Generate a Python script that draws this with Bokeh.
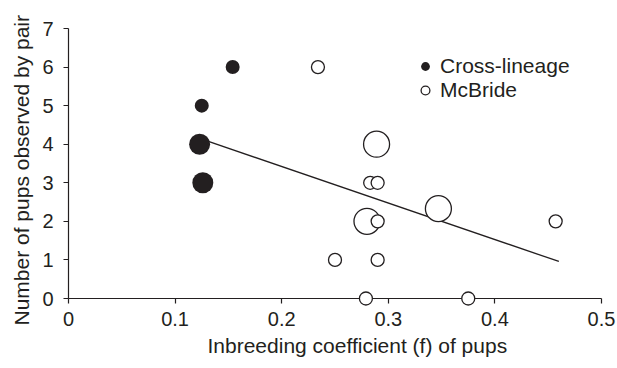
from bokeh.plotting import figure
from bokeh.models import Range1d, Legend, LegendItem, FixedTicker, Title
from bokeh.embed import file_html
from bokeh.resources import INLINE

# ---- data ----
cross_f = [0.154, 0.125, 0.123, 0.126]
cross_pups = [6, 5, 4, 3]
cross_size = [14, 14, 21, 21]

mcb_f = [0.234, 0.289, 0.280, 0.290, 0.283, 0.290, 0.347, 0.457, 0.250, 0.290, 0.279, 0.375]
mcb_pups = [6, 4, 2, 2, 3, 3, 2.33, 2, 1, 1, 0, 0]
mcb_size = [13, 26, 26, 13, 13, 13, 26, 13, 13, 13, 13, 13]

fit_f = [0.123, 0.460]
fit_pups = [4.15, 0.96]

x_ticks = [0, 0.1, 0.2, 0.3, 0.4, 0.5]
x_tick_labels = ["0", "0.1", "0.2", "0.3", "0.4", "0.5"]
y_ticks = [0, 1, 2, 3, 4, 5, 6, 7]
y_tick_labels = ["0", "1", "2", "3", "4", "5", "6", "7"]

x_title = "Inbreeding coefficient (f) of pups"
y_title = "Number of pups observed by pair"

INK = "#231f20"
FONT = "Liberation Sans"

p = figure(width=617, height=368, output_backend="svg", toolbar_location=None,
           x_range=Range1d(0, 0.5), y_range=Range1d(0, 7),
           min_border_left=68, min_border_right=16, min_border_top=28,
           min_border_bottom=70)
p.outline_line_color = None
p.xgrid.visible = False
p.ygrid.visible = False
p.background_fill_color = "white"
p.border_fill_color = "white"

p.line(fit_f, fit_pups, line_color=INK, line_width=1.3)

r1 = p.scatter(cross_f, cross_pups, size=cross_size, marker="circle",
               fill_color=INK, line_color=None)
r2 = p.scatter(mcb_f, mcb_pups, size=mcb_size, marker="circle",
               fill_color="white", line_color=INK, line_width=1.3)
# draw the points above the axes so the ones at 0 are not cut by the frame
r1.level = "overlay"
r2.level = "overlay"

for ax in (p.xaxis[0], p.yaxis[0]):
    ax.axis_line_color = INK
    ax.axis_line_width = 1.2
    ax.major_tick_line_color = INK
    ax.major_tick_line_width = 1.2
    ax.major_tick_out = 5
    ax.major_tick_in = 0
    ax.minor_tick_line_color = None
    ax.major_label_text_font = FONT
    ax.major_label_text_font_size = "20px"
    ax.major_label_text_color = INK

xa = p.xaxis[0]
xa.ticker = FixedTicker(ticks=x_ticks)
xa.major_label_overrides = dict(zip(x_ticks, x_tick_labels))
xa.major_label_standoff = 8

ya = p.yaxis[0]
ya.ticker = FixedTicker(ticks=y_ticks)
ya.major_label_overrides = dict(zip(y_ticks, y_tick_labels))
ya.major_label_standoff = 10

p.add_layout(Title(text=x_title, align="left", offset=139, standoff=11,
                   vertical_align="top", text_font=FONT,
                   text_font_size="21px", text_font_style="normal",
                   text_color=INK), "below")
p.add_layout(Title(text=y_title, align="left", offset=-27, standoff=12,
                   vertical_align="middle", text_font=FONT,
                   text_font_size="21px", text_font_style="normal",
                   text_color=INK), "left")

legend = Legend(items=[LegendItem(label="Cross-lineage", renderers=[r1]),
                       LegendItem(label="McBride", renderers=[r2])],
                location=(346, 196), glyph_width=22, glyph_height=22,
                label_standoff=4, spacing=-1, padding=0, margin=0,
                border_line_color=None, background_fill_alpha=0,
                label_text_font=FONT, label_text_font_size="21px",
                label_text_color=INK, label_height=22)
p.add_layout(legend)

open("out.html", "w").write(file_html(p, INLINE))
